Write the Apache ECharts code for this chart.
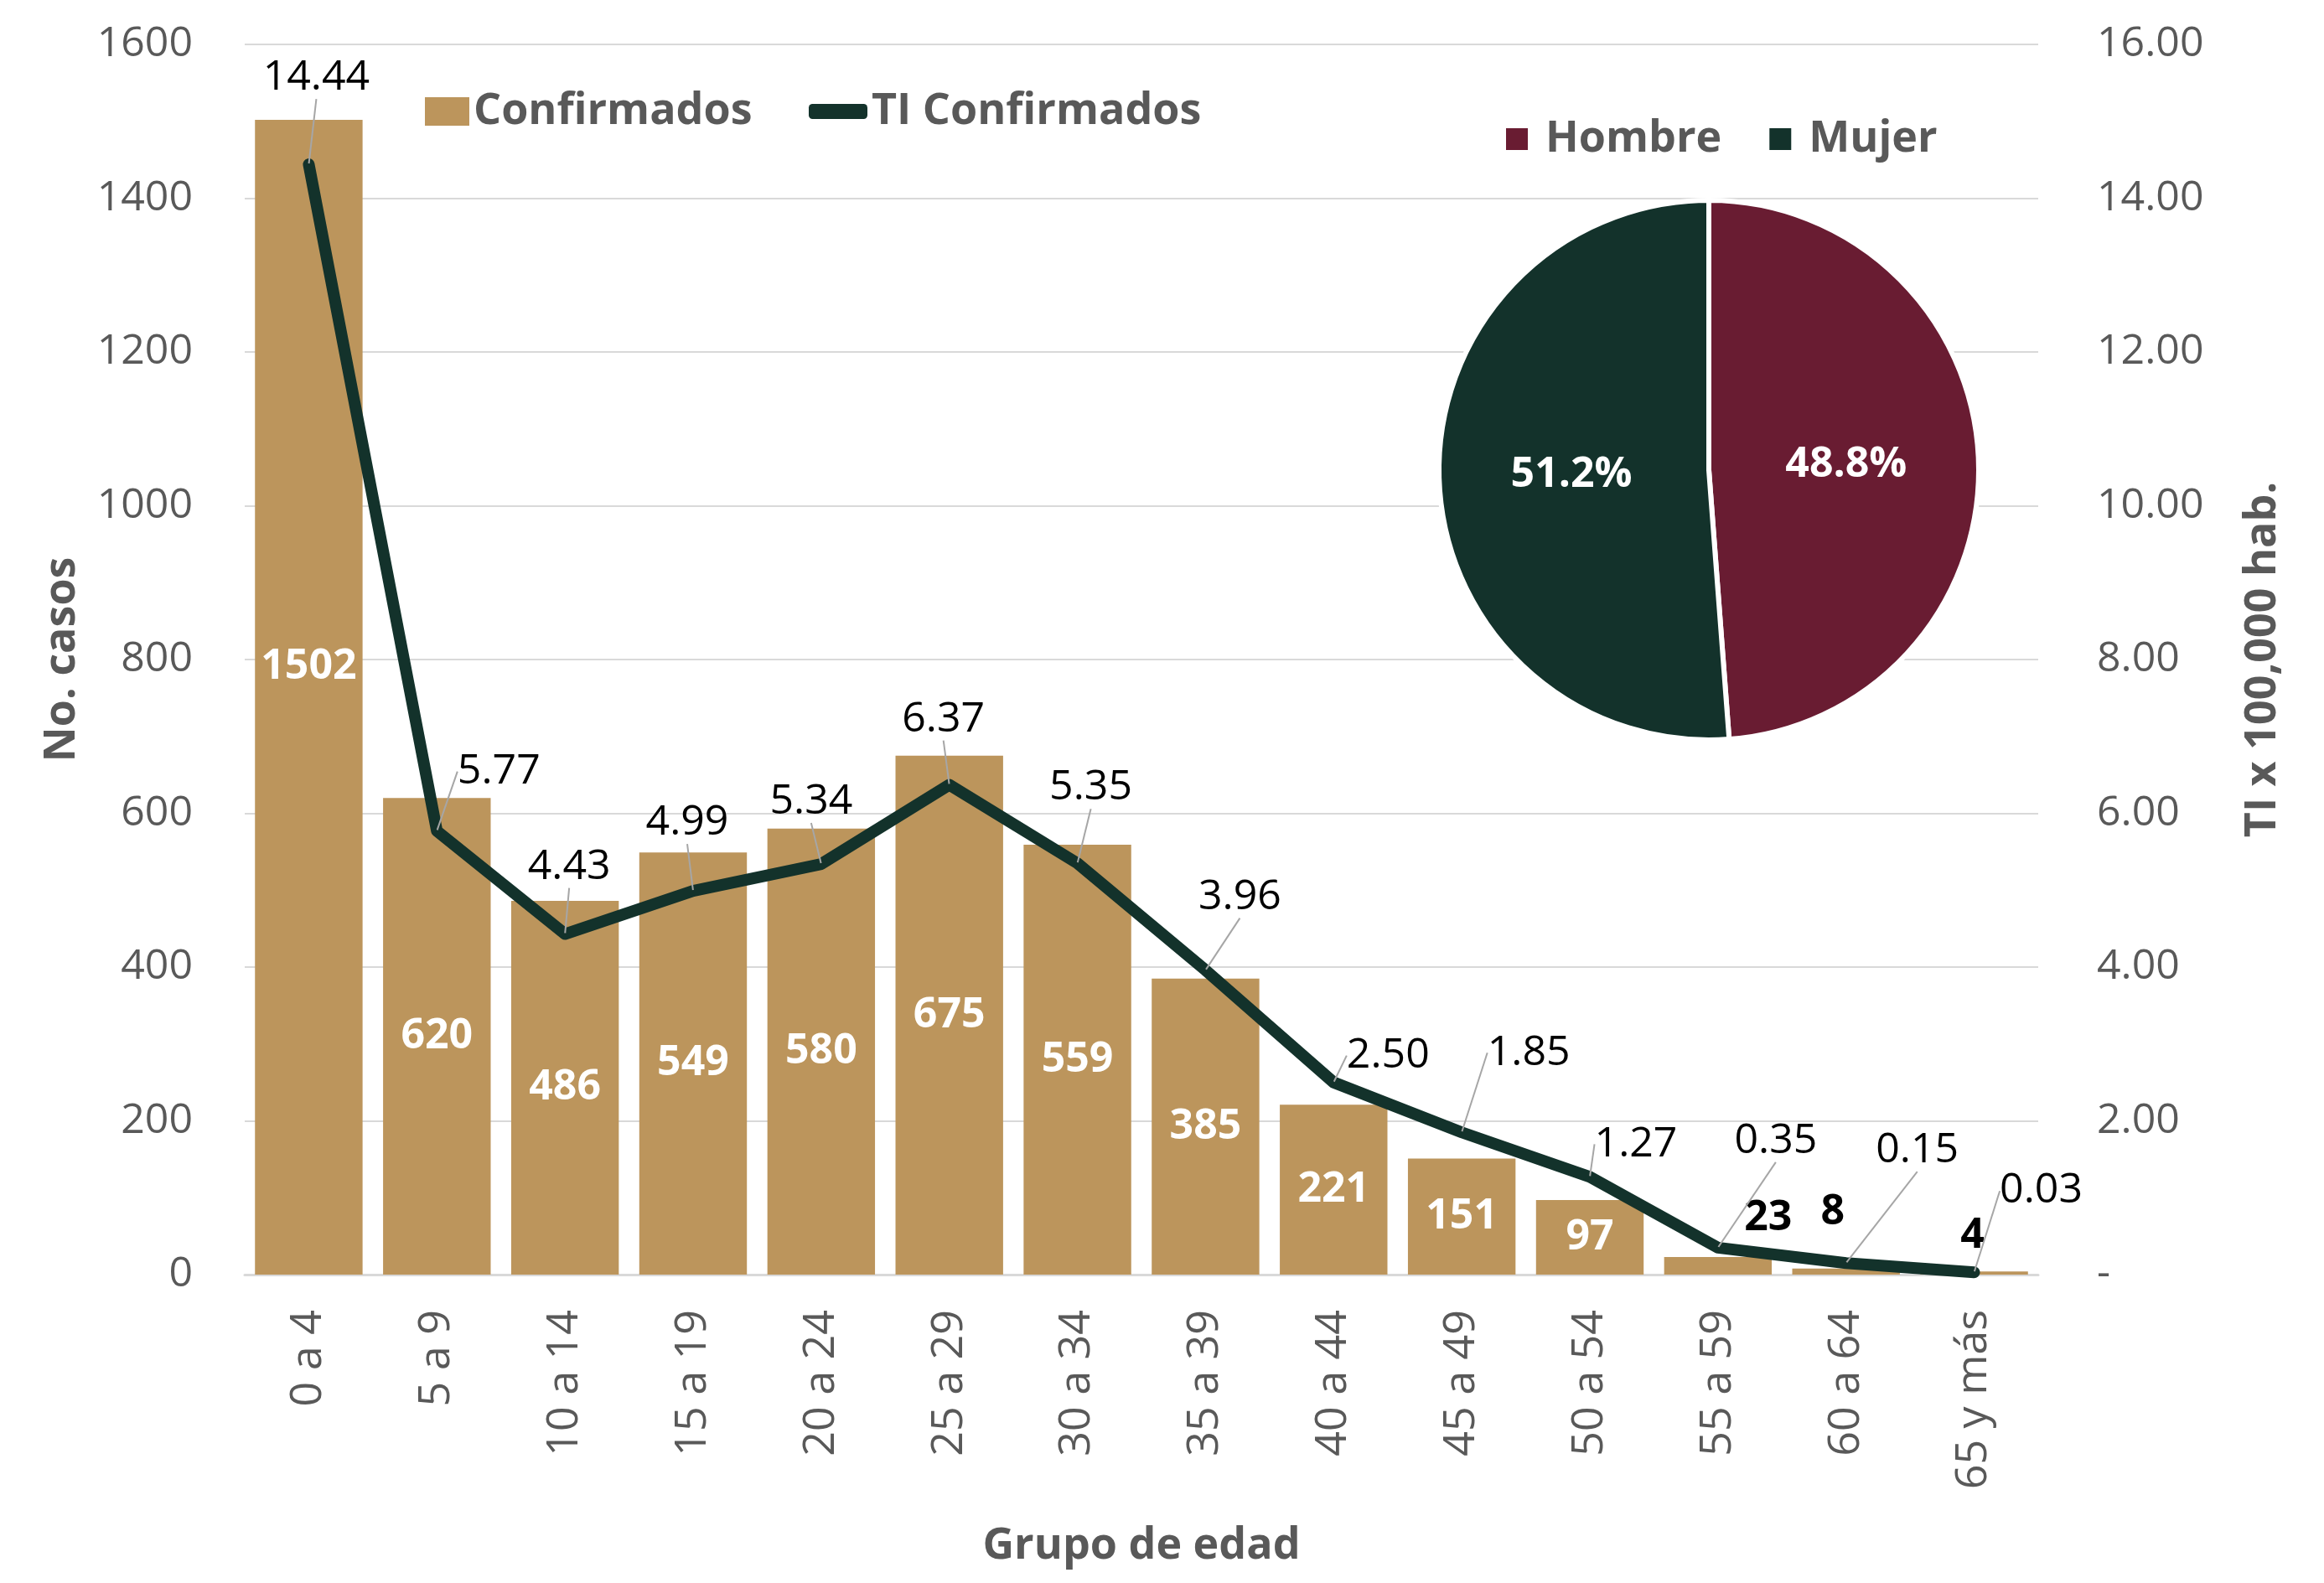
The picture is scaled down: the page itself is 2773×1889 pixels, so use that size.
<!DOCTYPE html>
<html>
<head>
<meta charset="utf-8">
<script src="https://cdn.jsdelivr.net/npm/echarts@6/dist/echarts.min.js"></script>
<style>
html,body{margin:0;padding:0;background:#fff;}
#chart{width:2773px;height:1889px;}
</style>
</head>
<body>
<div id="chart"></div>
<script>
// ---- data ----
const categories = ['0 a 4','5 a 9','10 a 14','15 a 19','20 a 24','25 a 29','30 a 34','35 a 39','40 a 44','45 a 49','50 a 54','55 a 59','60 a 64','65 y más'];
const confirmados = [1502,620,486,549,580,675,559,385,221,151,97,23,8,4];
const tasaIncidencia = [14.44,5.77,4.43,4.99,5.34,6.37,5.35,3.96,2.50,1.85,1.27,0.35,0.15,0.03];
const sexoNombres = ['Hombre','Mujer'];
const sexoPorcentaje = [48.8,51.2];

// ---- styling helpers (label placement only) ----
const lineLabelShift = [[9,-103],[74,-71],[5,-80],[-7,-81],[-12,-74],[-7,-78],[16,-90],[41,-87],[65,-32],[80,-95],[55,-39],[69,-127],[85,-134],[80,-97]];
const barLabelShift = {0:{offset:[0,-36]},11:{offset:[60,-57],color:'#000'},12:{offset:[-16,-71],color:'#000'},13:{offset:[-2,-44],color:'#000'}};

const FONT = 'Open Sans';
const GRAY = '#595959';
const GOLD = '#BC955C';
const GREEN = '#13322B';
const WINE = '#691C32';

const barData = confirmados.map((v,i)=>{
  const s = barLabelShift[i];
  return s ? {value:v, label:s} : v;
});

const legendText = {fontFamily:FONT,fontSize:52,fontWeight:'bold',color:GRAY};

const chart = echarts.init(document.getElementById('chart'), null, {renderer:'canvas'});
chart.setOption({
  backgroundColor:'#fff',
  animation:false,
  textStyle:{fontFamily:FONT},
  grid:{left:292,right:341,top:53,bottom:368,containLabel:false},
  legend:[
    {data:['Confirmados'],left:502,top:102,itemWidth:53,itemHeight:34,icon:'rect',
     textStyle:legendText},
    {data:[{name:'TI Confirmados',icon:'roundRect'}],left:960,top:102,itemWidth:70,itemHeight:18,
     textStyle:legendText},
    {data:sexoNombres,left:1790,top:135,itemWidth:28,itemHeight:28,itemGap:55,icon:'rect',
     textStyle:Object.assign({padding:[0,0,0,15]},legendText)}
  ],
  xAxis:{
    type:'category',data:categories,
    name:'Grupo de edad',nameLocation:'middle',nameGap:298,
    nameTextStyle:{fontFamily:FONT,fontSize:52,fontWeight:'bold',color:GRAY},
    axisLine:{lineStyle:{color:'#D9D9D9',width:3}},
    axisTick:{show:false},
    axisLabel:{rotate:90,margin:42,fontFamily:FONT,fontSize:52,color:GRAY,interval:0}
  },
  yAxis:[
    {type:'value',min:0,max:1600,interval:200,
     name:'No. casos',nameLocation:'middle',nameGap:192,nameRotate:90,
     nameTextStyle:{fontFamily:FONT,fontSize:52,fontWeight:'bold',color:GRAY},
     axisLine:{show:false},axisTick:{show:false},
     axisLabel:{margin:62,fontFamily:FONT,fontSize:50,color:GRAY,formatter:v=>String(v)},
     splitLine:{lineStyle:{color:'#D9D9D9',width:2}}},
    {type:'value',min:0,max:16,interval:2,position:'right',
     name:'TI x 100,000 hab.',nameLocation:'middle',nameGap:242,nameRotate:90,
     nameTextStyle:{fontFamily:FONT,fontSize:52,fontWeight:'bold',color:GRAY},
     axisLine:{show:false},axisTick:{show:false},
     axisLabel:{margin:70,fontFamily:FONT,fontSize:50,color:GRAY,align:'left',
       formatter:v=> v===0 ? '-' : v.toFixed(2)},
     splitLine:{show:false}}
  ],
  series:[
    {name:'Confirmados',type:'bar',data:barData,barCategoryGap:'16%',z:2,
     itemStyle:{color:GOLD},
     label:{show:true,position:'inside',fontFamily:FONT,fontSize:50,fontWeight:'bold',color:'#fff'}},
    {name:'TI Confirmados',type:'line',yAxisIndex:1,data:tasaIncidencia,z:5,
     symbol:'circle',symbolSize:2,showSymbol:true,
     itemStyle:{color:GREEN},
     lineStyle:{color:GREEN,width:14,cap:'round',join:'round'},
     label:{show:true,position:'inside',fontFamily:FONT,fontSize:50,color:'#000',
       formatter:p=>p.value.toFixed(2)},
     labelLine:{show:true,lineStyle:{color:'#A6A6A6',width:2}},
     labelLayout:function(p){
       const s = lineLabelShift[p.dataIndex];
       return {dx:s[0],dy:s[1]};
     }},
    {name:'Sexo',type:'pie',center:[2039,561],radius:[0,322],startAngle:90,clockwise:true,z:6,
     data:sexoNombres.map((n,i)=>({name:n,value:sexoPorcentaje[i],itemStyle:{color:i===0?WINE:GREEN}})),
     itemStyle:{borderColor:'#fff',borderWidth:6},
     label:{show:true,position:'inside',fontFamily:FONT,fontSize:50,fontWeight:'bold',color:'#fff',
       formatter:p=>p.value.toFixed(1)+'%'},
     labelLine:{show:false},
     emphasis:{disabled:true}}
  ]
});
</script>
</body>
</html>
